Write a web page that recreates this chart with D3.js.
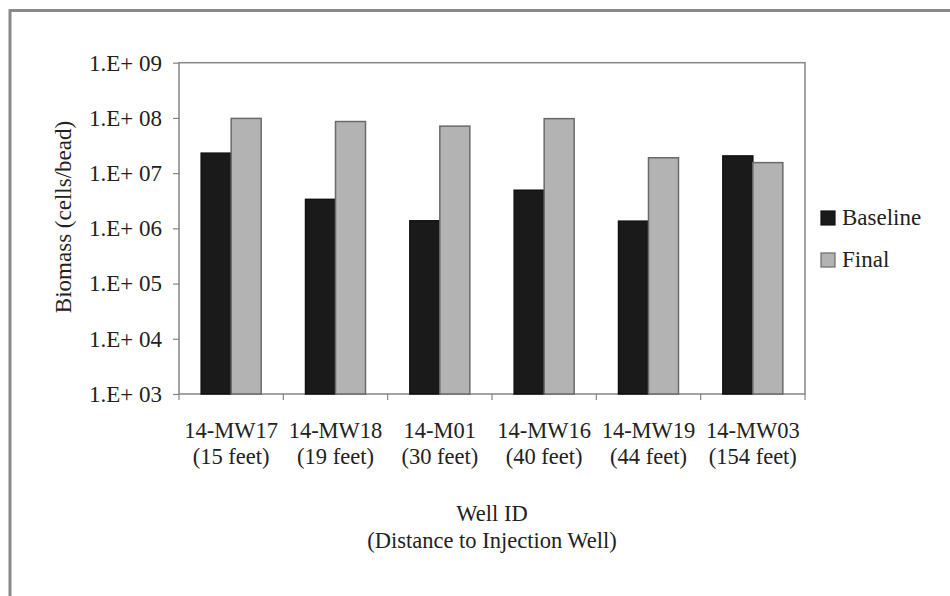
<!DOCTYPE html>
<html>
<head>
<meta charset="utf-8">
<script src="https://cdn.jsdelivr.net/npm/d3@7"></script>
<style>
  body { margin: 0; background: #fff; }
  svg text { font-family: "Liberation Serif", "Times New Roman", Tinos, "DejaVu Serif", serif; fill: #222; }
</style>
</head>
<body>
<svg class="chart" width="950" height="596"></svg>
<script>
const wells = ["14-MW17", "14-MW18", "14-M01", "14-MW16", "14-MW19", "14-MW03"];
const distances = ["(15 feet)", "(19 feet)", "(30 feet)", "(40 feet)", "(44 feet)", "(154 feet)"];
const baseline = [2.3e7, 3.35e6, 1.37e6, 4.9e6, 1.35e6, 2.05e7];
const final = [9.8e7, 8.6e7, 7.1e7, 9.7e7, 1.9e7, 1.55e7];
const yTicks = [1e3, 1e4, 1e5, 1e6, 1e7, 1e8, 1e9];
const seriesNames = ["Baseline", "Final"];
const seriesColors = ["#1a1a1a", "#b3b3b3"];

const svg = d3.select("svg.chart");
const plotL = 179, plotR = 805, plotT = 62.7, plotB = 394;

// outer chart border (runs off the right and bottom edges)
svg.append("rect")
  .attr("x", 10).attr("y", 10.5)
  .attr("width", 1000).attr("height", 1000)
  .attr("fill", "none")
  .attr("stroke", "#8a8a8a")
  .attr("stroke-width", 3);

const x = d3.scaleBand()
  .domain(wells)
  .range([plotL, plotR])
  .paddingInner(0.425)
  .paddingOuter(0.2125);

const xSub = d3.scaleBand()
  .domain(seriesNames)
  .range([0, x.bandwidth()]);

const y = d3.scaleLog()
  .domain([1e3, 1e9])
  .range([plotB, plotT]);

// plot frame
svg.append("rect")
  .attr("x", plotL).attr("y", plotT)
  .attr("width", plotR - plotL).attr("height", plotB - plotT)
  .attr("fill", "#fff")
  .attr("stroke", "#858585")
  .attr("stroke-width", 1.5);

// y axis ticks + labels
const fmt = d => "1.E+ " + String(Math.round(Math.log10(d))).padStart(2, "0");
const yAxis = svg.append("g")
  .attr("transform", `translate(${plotL},0)`)
  .call(d3.axisLeft(y).tickValues(yTicks).tickFormat(fmt).tickSize(6).tickPadding(11));
yAxis.attr("font-family", null);
yAxis.select(".domain").remove();
yAxis.selectAll(".tick line").attr("stroke", "#858585").attr("stroke-width", 1.2);
yAxis.selectAll(".tick text")
  .attr("font-size", 23)
  .attr("fill", "#222");

// x ticks at category boundaries
const gapHalf = (x.step() - x.bandwidth()) / 2;
const bounds = wells.map(w => x(w) - gapHalf).concat([plotR]);
svg.append("g")
  .selectAll("line")
  .data(bounds)
  .enter()
  .append("line")
  .attr("x1", d => d).attr("x2", d => d)
  .attr("y1", plotB).attr("y2", plotB + 6)
  .attr("stroke", "#858585")
  .attr("stroke-width", 1.2);

// bars
const groups = svg.selectAll("g.well")
  .data(wells)
  .enter()
  .append("g")
  .attr("class", "well")
  .attr("transform", d => `translate(${x(d)},0)`);

groups.selectAll("rect")
  .data((d, i) => [
    { name: "Baseline", value: baseline[i] },
    { name: "Final", value: final[i] }
  ])
  .enter()
  .append("rect")
  .attr("x", d => xSub(d.name))
  .attr("y", d => y(d.value))
  .attr("width", xSub.bandwidth())
  .attr("height", d => y(1e3) - y(d.value))
  .attr("fill", (d, i) => seriesColors[i])
  .attr("stroke", (d, i) => i === 0 ? "#111" : "#6a6a6a")
  .attr("stroke-width", 1.5);

// category labels
const labels = svg.append("g")
  .selectAll("text")
  .data(wells)
  .enter()
  .append("text")
  .attr("x", d => x(d) + x.bandwidth() / 2)
  .attr("y", 437.5)
  .attr("text-anchor", "middle")
  .attr("font-size", 22.5);
labels.append("tspan").text(d => d);
labels.append("tspan")
  .attr("x", d => x(d) + x.bandwidth() / 2)
  .attr("dy", 26.5)
  .text((d, i) => distances[i]);

// x axis title
const xTitle = svg.append("text")
  .attr("x", (plotL + plotR) / 2)
  .attr("y", 520.5)
  .attr("text-anchor", "middle")
  .attr("font-size", 22.5);
xTitle.append("tspan").text("Well ID");
xTitle.append("tspan")
  .attr("x", (plotL + plotR) / 2)
  .attr("dy", 27.5)
  .text("(Distance to Injection Well)");

// y axis title
svg.append("text")
  .attr("transform", "translate(71,217) rotate(-90)")
  .attr("text-anchor", "middle")
  .attr("font-size", 23)
  .text("Biomass (cells/bead)");

// legend
const legend = svg.selectAll("g.legend")
  .data(seriesNames)
  .enter()
  .append("g")
  .attr("class", "legend")
  .attr("transform", (d, i) => `translate(821,${211 + i * 42})`);

legend.append("rect")
  .attr("width", 14).attr("height", 14)
  .attr("fill", (d, i) => seriesColors[i])
  .attr("stroke", (d, i) => i === 0 ? "#111" : "#6a6a6a")
  .attr("stroke-width", 1.2);

legend.append("text")
  .attr("x", 21)
  .attr("y", 14)
  .attr("font-size", 23)
  .text(d => d);
</script>
</body>
</html>
